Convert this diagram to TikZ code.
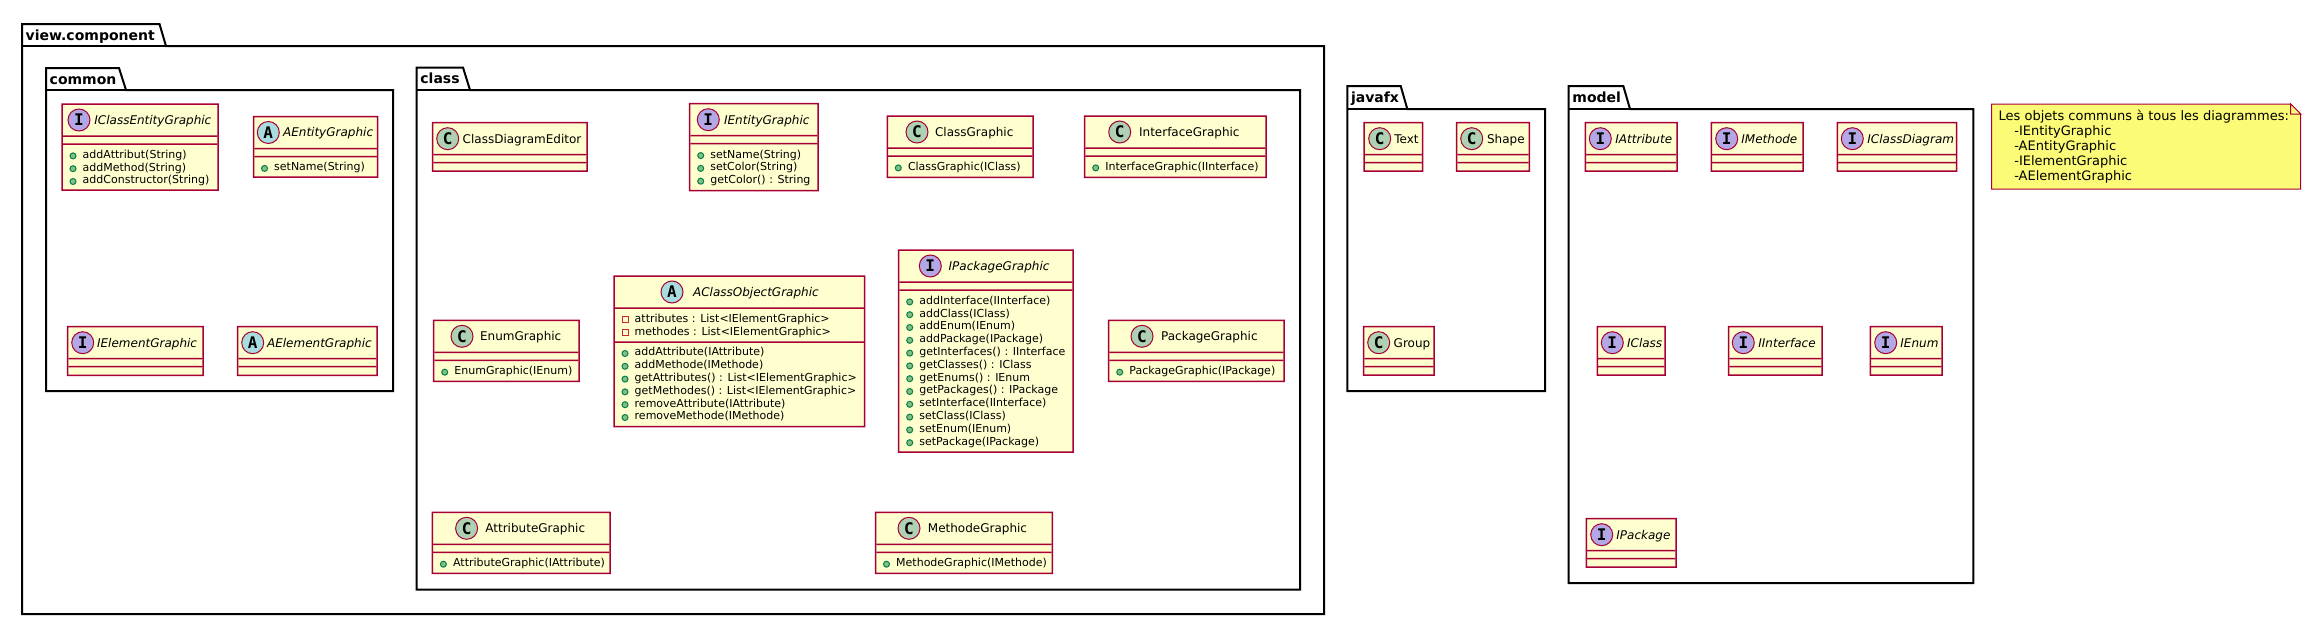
\documentclass[tikz,border=0pt]{standalone}
\usepackage{fontspec}
\setmainfont{DejaVu Sans}
\newfontfamily\circfont{DejaVu Sans Mono}
\definecolor{umlborder}{HTML}{A80036}
\definecolor{umlfill}{HTML}{FEFECE}
\definecolor{notefill}{HTML}{FBFB77}
\definecolor{circC}{HTML}{ADD1B2}
\definecolor{circI}{HTML}{B4A7E5}
\definecolor{circA}{HTML}{A9DCDF}
\definecolor{pubfill}{HTML}{84BE84}
\definecolor{publine}{HTML}{038048}
\definecolor{privline}{HTML}{C82930}
\newcount\mcnt
\def\secgap{8}
\tikzset{
  pkg/.style={draw=black,line width=1pt,fill=white,line join=miter},
  pkgtitle/.style={anchor=base west,inner sep=0pt,font=\fontsize{7}{8}\selectfont\bfseries},
  classfill/.style={fill=umlfill},
  classstroke/.style={fill=umlborder,even odd rule},
  notebox/.style={draw=umlborder,line width=.5pt,fill=notefill},
  membertext/.style={anchor=base west,inner sep=0pt,font=\fontsize{5.5}{6.5}\selectfont},
  titleC/.style={anchor=base west,inner sep=0pt,font=\fontsize{6}{7}\selectfont},
  titleI/.style={anchor=base west,inner sep=0pt,font=\fontsize{6}{7}\selectfont\itshape},
  titleA/.style={anchor=base west,inner sep=0pt,font=\fontsize{6}{7}\selectfont\itshape},
  badge/.style={circle,draw=umlborder,line width=.5pt,minimum size=11pt,inner sep=0pt,font=\fontsize{8}{8}\selectfont\circfont\bfseries},
  pubdot/.style={draw=publine,fill=pubfill,line width=.5pt},
  privdot/.style={draw=privline,line width=.5pt},
}
% package: name, x1, top, tab top right, tab bottom right, body top, x2, bottom, title
\newcommand{\umlpkg}[9]{%
  \draw[pkg] (#2,#6) -- (#2,#3) -- (#4,#3) -- (#5,#6) -- (#7,#6) -- (#7,#8) -- (#2,#8) -- cycle;
  \draw[pkg] (#2,#6) -- (#5,#6);
  \pgfmathsetmacro\tx{#2+3.3}\pgfmathsetmacro\ty{#3+16}
  \node[pkgtitle] (#1) at (\tx,\ty) {#9};
}
% class: name, letter, x1, y1, x2, y2, circle x, text x, title
\newcommand{\umlclass}[9]{%
  \fill[classfill] (#3,#4) rectangle (#5,#6);
  \pgfmathsetmacro\la{#4+32}\pgfmathsetmacro\lb{#4+32+\secgap}
  \pgfmathsetmacro\xo{#3-.75}\pgfmathsetmacro\xi{#3+.75}
  \pgfmathsetmacro\Xo{#5+.75}\pgfmathsetmacro\Xi{#5-.75}
  \pgfmathsetmacro\yo{#4-.75}\pgfmathsetmacro\yi{#4+.75}
  \pgfmathsetmacro\Yo{#6+.75}\pgfmathsetmacro\Yi{#6-.75}
  \pgfmathsetmacro\laa{\la-.75}\pgfmathsetmacro\lab{\la+.75}
  \pgfmathsetmacro\lba{\lb-.75}\pgfmathsetmacro\lbb{\lb+.75}
  \fill[classstroke] (\xo,\yo) rectangle (\Xo,\Yo) (\xi,\yi) rectangle (\Xi,\Yi);
  \fill[fill=umlborder] (\xi,\laa) rectangle (\Xi,\lab) (\xi,\lba) rectangle (\Xi,\lbb);
  \pgfmathsetmacro\cy{#4+16}\pgfmathsetmacro\ty{#4+20.4}
  \node[badge,fill=circ#2] (b-#1) at (#7,\cy) {#2};
  \node[title#2] (#1) at (#8,\ty) {#9};
  \pgfmathsetmacro\rowy{\lb+14.3}
  \pgfmathsetmacro\rowdot{#3+11}
  \pgfmathsetmacro\rowtxt{#3+20.3}
}
\newcommand{\setrow}[1]{\pgfmathsetmacro\rowy{#1}}
\newcommand{\pub}[1]{%
  \pgfmathsetmacro\doty{\rowy-2.4}
  \draw[pubdot] (\rowdot,\doty) circle[radius=1.5pt];
  \global\advance\mcnt by 1
  \node[membertext] (m\the\mcnt) at (\rowtxt,\rowy) {#1};
  \pgfmathsetmacro\rowy{\rowy+12.8}
}
\newcommand{\priv}[1]{%
  \pgfmathsetmacro\doty{\rowy-2.4}
  \pgfmathsetmacro\sa{\rowdot-3}\pgfmathsetmacro\sb{\rowdot+3}
  \pgfmathsetmacro\sc{\doty-3}\pgfmathsetmacro\sd{\doty+3}
  \draw[privdot] (\sa,\sc) rectangle (\sb,\sd);
  \global\advance\mcnt by 1
  \node[membertext] (m\the\mcnt) at (\rowtxt,\rowy) {#1};
  \pgfmathsetmacro\rowy{\rowy+12.8}
}
\begin{document}
\begin{tikzpicture}[x=0.5pt,y=-0.5pt]
\useasboundingbox (0,0) rectangle (2309,621);
% packages
\umlpkg{viewcomponent}{22}{24}{159.5}{166}{46}{1324}{614}{view.component}
\umlpkg{common}{46}{68}{119}{126}{90}{393}{391}{common}
\umlpkg{classpkg}{416.7}{67.5}{463}{470}{90}{1300}{589.5}{class}
\umlpkg{javafx}{1347.3}{86}{1400.7}{1407.3}{109}{1545}{391}{javafx}
\umlpkg{model}{1568.7}{86}{1623.3}{1630}{109}{1973.3}{583}{model}
% common
\umlclass{IClassEntityGraphic}{I}{62}{104}{218}{190}{79}{94}{IClassEntityGraphic}
\pub{addAttribut(String)}\pub{addMethod(String)}\pub{addConstructor(String)}
\umlclass{AEntityGraphic}{A}{253.5}{116.5}{377.5}{177}{268.3}{282.7}{AEntityGraphic}
\pub{setName(String)}
\umlclass{IElementGraphic}{I}{67.5}{326.7}{203}{375.3}{82.7}{96.7}{IElementGraphic}
\umlclass{AElementGraphic}{A}{237.5}{326.7}{377}{375.3}{252.7}{266.7}{AElementGraphic}
% class
\umlclass{ClassDiagramEditor}{C}{432.7}{122.7}{587}{171}{447.7}{462.3}{ClassDiagramEditor}
\umlclass{IEntityGraphic}{I}{689.7}{103.7}{818}{190.7}{708.3}{723.7}{IEntityGraphic}
\pub{setName(String)}\pub{setColor(String)}\pub{getColor() : String}
\umlclass{ClassGraphic}{C}{887.3}{116}{1033}{177.3}{917}{934.7}{ClassGraphic}
\pub{ClassGraphic(IClass)}
\umlclass{InterfaceGraphic}{C}{1084.7}{116}{1266}{177.3}{1119.7}{1138.7}{InterfaceGraphic}
\pub{InterfaceGraphic(IInterface)}
\umlclass{EnumGraphic}{C}{433.7}{320.3}{579}{381.3}{462}{479.7}{EnumGraphic}
\pub{EnumGraphic(IEnum)}
\def\secgap{34}
\umlclass{AClassObjectGraphic}{A}{614}{276}{864.7}{426.7}{672}{692.7}{AClassObjectGraphic}
\def\secgap{8}
\setrow{322.2}
\priv{attributes : List<IElementGraphic>}\priv{methodes : List<IElementGraphic>}
\setrow{355.9}
\pub{addAttribute(IAttribute)}\pub{addMethode(IMethode)}\pub{getAttributes() : List<IElementGraphic>}
\pub{getMethodes() : List<IElementGraphic>}\pub{removeAttribute(IAttribute)}\pub{removeMethode(IMethode)}
\umlclass{IPackageGraphic}{I}{898.7}{250}{1073}{452}{930.3}{948.3}{IPackageGraphic}
\pub{addInterface(IInterface)}\pub{addClass(IClass)}\pub{addEnum(IEnum)}\pub{addPackage(IPackage)}
\pub{getInterfaces() : IInterface}\pub{getClasses() : IClass}\pub{getEnums() : IEnum}\pub{getPackages() : IPackage}
\pub{setInterface(IInterface)}\pub{setClass(IClass)}\pub{setEnum(IEnum)}\pub{setPackage(IPackage)}
\umlclass{PackageGraphic}{C}{1108.7}{320.3}{1284}{381.3}{1142}{1160.7}{PackageGraphic}
\pub{PackageGraphic(IPackage)}
\umlclass{AttributeGraphic}{C}{432.4}{512.3}{610}{573.3}{466.6}{485}{AttributeGraphic}
\pub{AttributeGraphic(IAttribute)}
\umlclass{MethodeGraphic}{C}{875.5}{512.3}{1052.4}{573.3}{909}{927.5}{MethodeGraphic}
\pub{MethodeGraphic(IMethode)}
% javafx
\umlclass{Text}{C}{1364}{122.7}{1422.7}{171}{1379.7}{1394}{Text}
\umlclass{Shape}{C}{1456.7}{122.7}{1529.3}{171}{1471.7}{1486.7}{Shape}
\umlclass{Group}{C}{1363.7}{326.7}{1434}{375}{1378.7}{1393.3}{Group}
% model
\umlclass{IAttribute}{I}{1585.3}{122.7}{1677}{171}{1600.3}{1615}{IAttribute}
\umlclass{IMethode}{I}{1711.3}{122.7}{1803}{171}{1726.7}{1741}{IMethode}
\umlclass{IClassDiagram}{I}{1837.3}{122.7}{1956.7}{171}{1852.3}{1867}{IClassDiagram}
\umlclass{IClass}{I}{1597.3}{326.7}{1665}{375}{1612.3}{1626.7}{IClass}
\umlclass{IInterface}{I}{1728.7}{326.7}{1822}{375}{1743.3}{1758}{IInterface}
\umlclass{IEnum}{I}{1870.3}{326.7}{1942}{375}{1885.7}{1900}{IEnum}
\umlclass{IPackage}{I}{1586.3}{518.7}{1676}{567}{1601.7}{1616}{IPackage}
% note
\draw[notebox] (1991.7,104) -- (2290.7,104) -- (2300.7,114) -- (2300.7,189) -- (1991.7,189) -- cycle;
\draw[notebox] (2290.7,104) -- (2290.7,114) -- (2300.7,114) -- cycle;
\node[anchor=north west,inner sep=0pt,align=left,font=\fontsize{6.5}{7.55}\selectfont] (note) at (1998.3,109.5)
 {Les objets communs à tous les diagrammes:\\
  \hspace*{7.8pt}-IEntityGraphic\\
  \hspace*{7.8pt}-AEntityGraphic\\
  \hspace*{7.8pt}-IElementGraphic\\
  \hspace*{7.8pt}-AElementGraphic};
\end{tikzpicture}
\end{document}
